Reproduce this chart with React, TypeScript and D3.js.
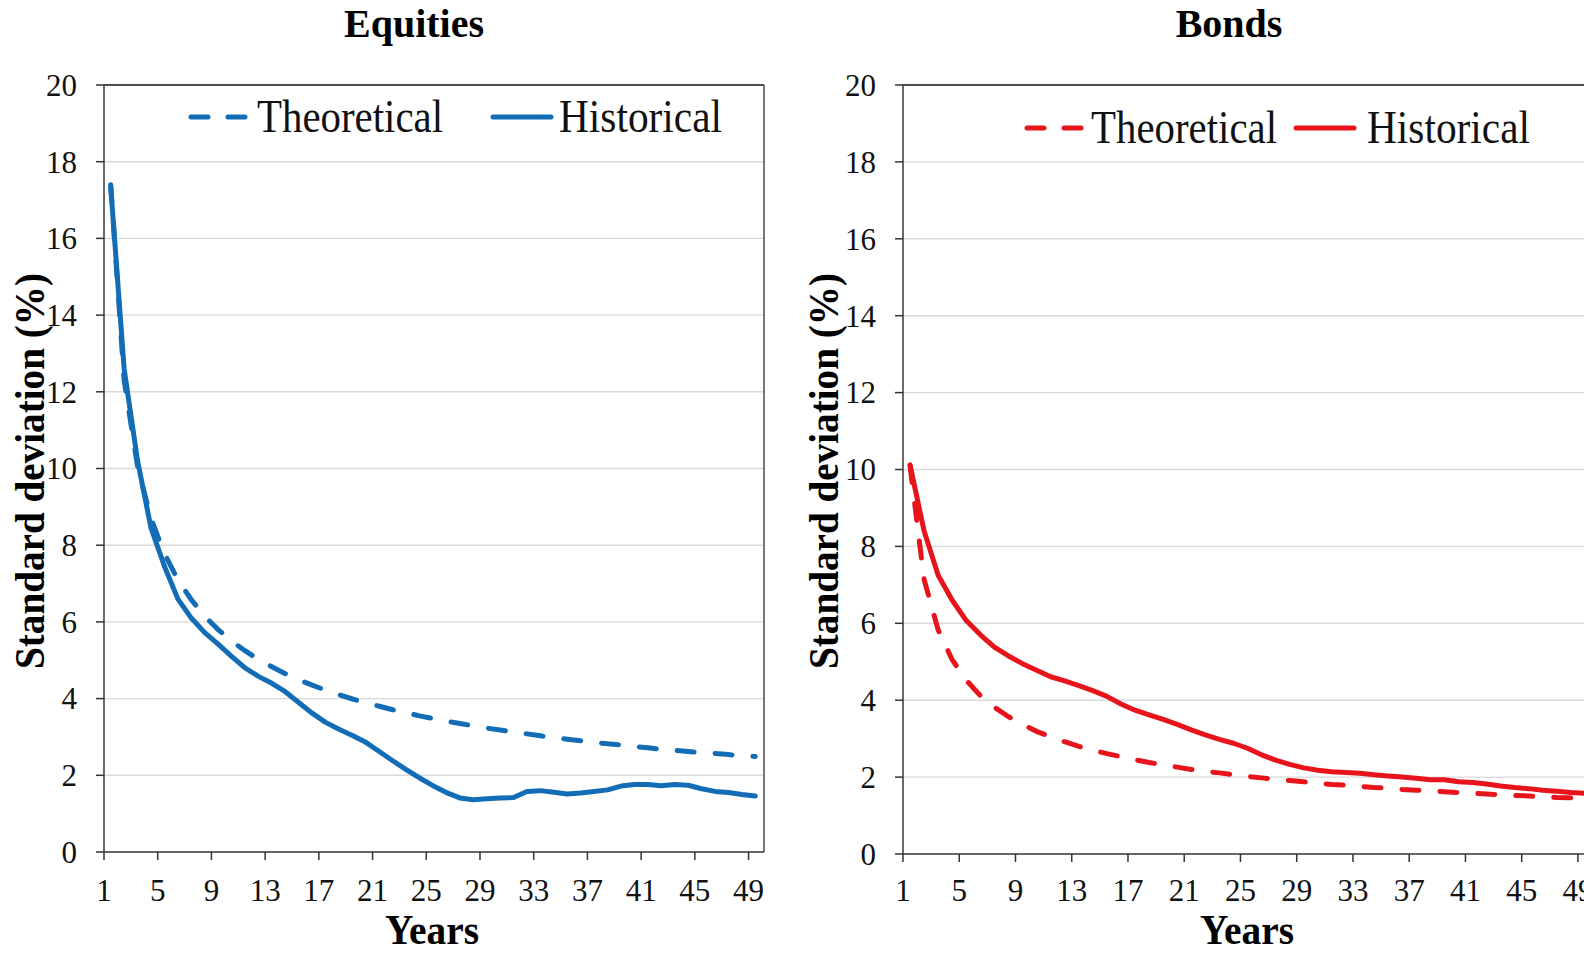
import { useEffect, useRef } from 'react'
import * as d3 from 'd3'

// Years 1..49 (one value per year)
const xTickLabels = ['1', '5', '9', '13', '17', '21', '25', '29', '33', '37', '41', '45', '49']
const yTicks = [0, 2, 4, 6, 8, 10, 12, 14, 16, 18, 20]

const equitiesTheoretical = [
    17.4, 12.3, 10.05, 8.7, 7.78, 7.1, 6.58, 6.15, 5.8, 5.5,
    5.25, 5.02, 4.83, 4.65, 4.49, 4.35, 4.22, 4.1, 3.99, 3.89,
    3.8, 3.71, 3.63, 3.55, 3.48, 3.41, 3.35, 3.29, 3.23, 3.18,
    3.13, 3.08, 3.03, 2.98, 2.94, 2.9, 2.86, 2.82, 2.79, 2.75,
    2.72, 2.68, 2.65, 2.62, 2.59, 2.57, 2.54, 2.51, 2.49,
]
const equitiesHistorical = [
    17.35, 12.6, 10.2, 8.45, 7.45, 6.6, 6.1, 5.72, 5.42, 5.1,
    4.8, 4.58, 4.4, 4.18, 3.9, 3.62, 3.38, 3.2, 3.04, 2.86,
    2.62, 2.38, 2.15, 1.93, 1.73, 1.55, 1.41, 1.36, 1.39, 1.41,
    1.42, 1.58, 1.6, 1.56, 1.51, 1.54, 1.58, 1.62, 1.72, 1.76,
    1.76, 1.73, 1.76, 1.74, 1.65, 1.58, 1.55, 1.5, 1.46,
]
const bondsTheoretical = [
    10.1, 7.14, 5.83, 5.05, 4.52, 4.12, 3.82, 3.57, 3.37, 3.19,
    3.05, 2.92, 2.8, 2.7, 2.61, 2.53, 2.45, 2.38, 2.32, 2.26,
    2.2, 2.15, 2.11, 2.06, 2.02, 1.98, 1.94, 1.91, 1.88, 1.84,
    1.81, 1.79, 1.76, 1.73, 1.71, 1.68, 1.66, 1.64, 1.62, 1.6,
    1.58, 1.56, 1.54, 1.52, 1.51, 1.49, 1.47, 1.46, 1.44,
]
const bondsHistorical = [
    10.12, 8.4, 7.25, 6.6, 6.07, 5.7, 5.38, 5.15, 4.95, 4.78,
    4.61, 4.5, 4.38, 4.25, 4.1, 3.9, 3.74, 3.62, 3.5, 3.37,
    3.23, 3.1, 2.98, 2.88, 2.75, 2.58, 2.44, 2.33, 2.24, 2.18,
    2.14, 2.12, 2.1, 2.06, 2.03, 2, 1.97, 1.93, 1.93, 1.88,
    1.86, 1.82, 1.77, 1.73, 1.7, 1.66, 1.63, 1.6, 1.58,
]

const FONT = '"Liberation Serif", "Times New Roman", serif'

const panels = [
    {
        title: 'Equities', color: '#136db6',
        theo: equitiesTheoretical, hist: equitiesHistorical,
        left: 104, right: 764, span: 49.15, top: 85, bottom: 852,
        titleX: 414, yTitleX: 44, xTitleX: 432,
        legendY: 117, legend: [189, 257, 493, 559],
    },
    {
        title: 'Bonds', color: '#e8141c',
        theo: bondsTheoretical, hist: bondsHistorical,
        left: 903, right: 1592, span: 49, top: 85, bottom: 854,
        titleX: 1229, yTitleX: 838, xTitleX: 1247,
        legendY: 128, legend: [1025, 1091, 1296, 1367],
    },
]

const drawPanel = (svg, p) => {
    const x = d3.scaleLinear().domain([0, p.span]).range([p.left, p.right])
    const y = d3.scaleLinear().domain([0, 20]).range([p.bottom, p.top])
    const g = svg.append('g')

    // Gridlines
    g.selectAll('line.grid')
        .data(yTicks.filter(v => v > 0 && v < 20))
        .join('line')
        .attr('x1', p.left).attr('x2', p.right)
        .attr('y1', d => y(d)).attr('y2', d => y(d))
        .attr('stroke', '#d9d9d9').attr('stroke-width', 1.4)

    // Frame
    g.append('line').attr('x1', p.left).attr('x2', p.right).attr('y1', p.top).attr('y2', p.top)
        .attr('stroke', '#111').attr('stroke-width', 1.6)
    g.append('line').attr('x1', p.right).attr('x2', p.right).attr('y1', p.top).attr('y2', p.bottom)
        .attr('stroke', '#555').attr('stroke-width', 1.6)
    g.append('line').attr('x1', p.left).attr('x2', p.left).attr('y1', p.top).attr('y2', p.bottom)
        .attr('stroke', '#444').attr('stroke-width', 1.6)
    g.append('line').attr('x1', p.left).attr('x2', p.right).attr('y1', p.bottom).attr('y2', p.bottom)
        .attr('stroke', '#333').attr('stroke-width', 1.6)

    // Y axis ticks and labels
    g.selectAll('line.yt').data(yTicks).join('line')
        .attr('x1', p.left - 8).attr('x2', p.left)
        .attr('y1', d => y(d)).attr('y2', d => y(d))
        .attr('stroke', '#333').attr('stroke-width', 1.5)
    g.selectAll('text.yl').data(yTicks).join('text')
        .attr('x', p.left - 27).attr('y', d => y(d)).attr('dy', '0.35em')
        .attr('text-anchor', 'end')
        .style('font-family', FONT).style('font-size', '31px').attr('fill', '#111')
        .text(d => d)

    // X axis ticks and labels (labels sit on ticks, every 4 years)
    g.selectAll('line.xt').data(xTickLabels).join('line')
        .attr('x1', (d, i) => x(i * 4)).attr('x2', (d, i) => x(i * 4))
        .attr('y1', p.bottom).attr('y2', p.bottom + 8)
        .attr('stroke', '#333').attr('stroke-width', 1.5)
    g.selectAll('text.xl').data(xTickLabels).join('text')
        .attr('x', (d, i) => x(i * 4)).attr('y', 901)
        .attr('text-anchor', 'middle')
        .style('font-family', FONT).style('font-size', '31px').attr('fill', '#111')
        .text(d => d)

    // Series (points centred in each year slot)
    const line = d3.line<number>().x((d, i) => x(i + 0.5)).y(d => y(d))
    g.append('path').datum(p.theo).attr('d', line)
        .attr('fill', 'none').attr('stroke', p.color).attr('stroke-width', 5)
        .attr('stroke-dasharray', '17 21').attr('stroke-linecap', 'round')
    g.append('path').datum(p.hist).attr('d', line)
        .attr('fill', 'none').attr('stroke', p.color).attr('stroke-width', 5)
        .attr('stroke-linejoin', 'round').attr('stroke-linecap', 'round')

    // Legend
    const [dx, tx, sx, hx] = p.legend
    g.append('line').attr('x1', dx + 2).attr('x2', dx + 56).attr('y1', p.legendY).attr('y2', p.legendY)
        .attr('stroke', p.color).attr('stroke-width', 5).attr('stroke-dasharray', '17 20')
        .attr('stroke-linecap', 'round')
    g.append('text').attr('x', tx).attr('y', p.legendY + 15)
        .attr('textLength', 186).attr('lengthAdjust', 'spacingAndGlyphs')
        .style('font-family', FONT).style('font-size', '46px').attr('fill', '#111')
        .text('Theoretical')
    g.append('line').attr('x1', sx).attr('x2', sx + 58).attr('y1', p.legendY).attr('y2', p.legendY)
        .attr('stroke', p.color).attr('stroke-width', 5).attr('stroke-linecap', 'round')
    g.append('text').attr('x', hx).attr('y', p.legendY + 15)
        .attr('textLength', 163).attr('lengthAdjust', 'spacingAndGlyphs')
        .style('font-family', FONT).style('font-size', '46px').attr('fill', '#111')
        .text('Historical')

    // Titles
    g.append('text').attr('x', p.titleX).attr('y', 37).attr('text-anchor', 'middle')
        .style('font-family', FONT).style('font-size', '40px').style('font-weight', 'bold')
        .text(p.title)
    g.append('text').attr('x', p.xTitleX).attr('y', 944).attr('text-anchor', 'middle')
        .attr('textLength', 94).attr('lengthAdjust', 'spacingAndGlyphs')
        .style('font-family', FONT).style('font-size', '42px').style('font-weight', 'bold')
        .text('Years')
    g.append('text')
        .attr('transform', `translate(${p.yTitleX},471) rotate(-90)`)
        .attr('text-anchor', 'middle')
        .attr('textLength', 396).attr('lengthAdjust', 'spacingAndGlyphs')
        .style('font-family', FONT).style('font-size', '43px').style('font-weight', 'bold')
        .text('Standard deviation (%)')
}

export default function App() {
    const ref = useRef<SVGSVGElement>(null)

    useEffect(() => {
        document.body.style.margin = '0'
        const svg = d3.select(ref.current)
        svg.selectAll('*').remove()
        svg.append('rect').attr('width', 1584).attr('height', 955).attr('fill', '#fff')
        panels.forEach(p => drawPanel(svg, p))
    }, [])

    return <svg ref={ref} width={1584} height={955} style={{ display: 'block' }} />
}
